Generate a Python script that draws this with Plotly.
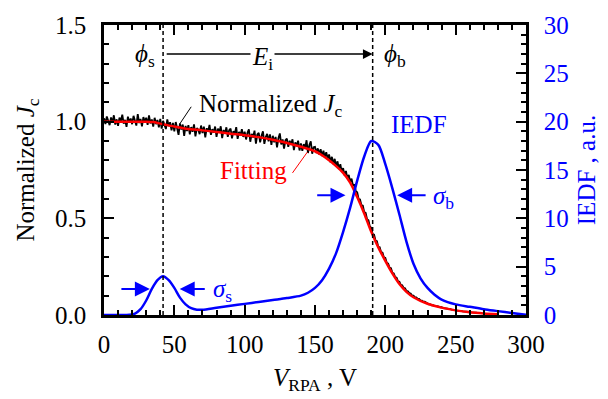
import plotly.graph_objects as go

# ---------------- data ----------------
v_jc = list(range(0, 266))
jc_norm = [
    1.018, 0.988, 1.027, 1.006, 0.982, 1.022, 0.994, 1.033, 0.985, 1.012,
    0.978, 1.021, 1.002, 1.036, 0.99, 1.009, 0.973, 1.026, 0.997, 1.016,
    0.987, 1.03, 1.005, 0.98, 1.039, 0.993, 1.014, 0.976, 1.024, 1.0,
    1.02, 0.984, 1.032, 0.991, 1.011, 0.974, 1.02, 0.987, 1.009, 0.971,
    1.014, 0.964, 1.004, 0.985, 0.962, 1.012, 0.977, 0.997, 0.955, 0.994,
    0.95, 0.998, 0.97, 0.932, 0.991, 0.959, 0.985, 0.927, 0.978, 0.951,
    0.982, 0.934, 0.972, 0.948, 0.986, 0.924, 0.967, 0.959, 0.935, 0.98,
    0.941, 0.974, 0.919, 0.966, 0.948, 0.983, 0.932, 0.961, 0.943, 0.975,
    0.921, 0.964, 0.945, 0.976, 0.915, 0.957, 0.938, 0.971, 0.922, 0.956,
    0.964, 0.914, 0.951, 0.938, 0.972, 0.911, 0.947, 0.929, 0.961, 0.921,
    0.948, 0.908, 0.942, 0.96, 0.896, 0.937, 0.918, 0.954, 0.886, 0.934,
    0.942, 0.893, 0.927, 0.95, 0.885, 0.921, 0.937, 0.898, 0.934, 0.88,
    0.927, 0.893, 0.921, 0.867, 0.914, 0.939, 0.882, 0.908, 0.861, 0.904,
    0.912, 0.87, 0.901, 0.881, 0.909, 0.853, 0.893, 0.874, 0.902, 0.851,
    0.888, 0.849, 0.884, 0.863, 0.904, 0.838, 0.879, 0.898, 0.834, 0.868,
    0.87, 0.838, 0.862, 0.83, 0.858, 0.822, 0.85, 0.815, 0.842, 0.808,
    0.83, 0.79, 0.818, 0.78, 0.808, 0.768, 0.795, 0.755, 0.78, 0.742,
    0.76, 0.722, 0.745, 0.705, 0.725, 0.688, 0.705, 0.668, 0.675, 0.64,
    0.635, 0.6, 0.598, 0.568, 0.565, 0.532, 0.528, 0.495, 0.49, 0.458,
    0.45, 0.418, 0.415, 0.385, 0.382, 0.352, 0.35, 0.325, 0.322, 0.298,
    0.295, 0.27, 0.266, 0.245, 0.242, 0.218, 0.215, 0.196, 0.193, 0.174,
    0.172, 0.156, 0.154, 0.14, 0.138, 0.125, 0.123, 0.113, 0.111, 0.101,
    0.1, 0.091, 0.091, 0.083, 0.083, 0.076, 0.075, 0.069, 0.069, 0.063,
    0.06, 0.055, 0.055, 0.05, 0.051, 0.046, 0.047, 0.043, 0.043, 0.04,
    0.04, 0.036, 0.036, 0.033, 0.033, 0.03, 0.031, 0.028, 0.028, 0.026,
    0.026, 0.023, 0.023, 0.021, 0.021, 0.019, 0.019, 0.017, 0.017, 0.016,
    0.016, 0.014, 0.014, 0.013, 0.013, 0.012,
]

v_fit = [0, 10, 20, 30, 35, 40, 45, 50, 55, 60, 70, 80, 90, 100, 110, 120, 130, 140, 150, 155,
         160, 165, 170, 175, 180, 185, 190, 195, 200, 205, 210, 215, 220, 230, 240, 250, 260, 270, 280]
jc_fit = [1.0, 1.0, 1.0, 1.0, 0.998, 0.99, 0.982, 0.975, 0.968, 0.962, 0.955, 0.947, 0.938, 0.93,
          0.92, 0.906, 0.89, 0.87, 0.847, 0.826, 0.80, 0.77, 0.735, 0.685, 0.61, 0.525, 0.43, 0.35,
          0.28, 0.215, 0.16, 0.12, 0.092, 0.058, 0.038, 0.024, 0.014, 0.008, 0.004]

v_iedf = [0, 10, 18, 22, 26, 30, 34, 38, 42, 46, 50, 54, 58, 62, 66, 70, 80, 90, 100, 110, 120, 130,
          140, 145, 150, 155, 160, 165, 170, 175, 180, 185, 190, 195, 200, 205, 210, 215, 220, 225,
          230, 235, 240, 250, 260, 270, 280, 290, 300]
iedf = [0, 0, 0.02, 0.15, 0.6, 1.5, 2.7, 3.6, 4.0, 3.6, 2.8, 1.8, 1.1, 0.7, 0.55, 0.55, 0.75, 0.95,
        1.15, 1.35, 1.55, 1.75, 2.0, 2.3, 2.8, 3.6, 4.8, 6.4, 8.6, 11.1, 13.9, 16.4, 18.0, 17.6,
        15.6, 13.1, 10.4, 7.6, 5.3, 3.8, 2.8, 2.1, 1.6, 1.1, 0.85, 0.6, 0.4, 0.2, 0.02]

phi_s = 42
phi_b = 191

FONT = "Liberation Serif"
BLUE = "#0000ff"
RED = "#ff0000"
FS = 25

fig = go.Figure()

fig.add_trace(go.Scatter(x=v_iedf, y=iedf, mode="lines", yaxis="y2",
                         line=dict(color=BLUE, width=2.5, shape="spline", smoothing=0.8),
                         showlegend=False))
fig.add_trace(go.Scatter(x=v_jc, y=jc_norm, mode="lines",
                         line=dict(color="black", width=1.8), showlegend=False))
fig.add_trace(go.Scatter(x=v_fit, y=jc_fit, mode="lines",
                         line=dict(color=RED, width=2.5, shape="spline", smoothing=0.8),
                         showlegend=False))

for xv in (phi_s, phi_b):
    fig.add_shape(type="line", xref="x", yref="paper", x0=xv, x1=xv, y0=0, y1=1,
                  line=dict(color="black", width=1.5, dash="4px,3px"))

fig.add_shape(type="line", xref="x", yref="y", x0=62, y0=1.077, x1=54, y1=0.99,
              line=dict(color="black", width=1))
fig.add_shape(type="line", xref="x", yref="y", x0=134, y0=0.735, x1=144.6, y1=0.843,
              line=dict(color=RED, width=1))

ann = []
ann.append(dict(x=phi_b, y=1.35, ax=phi_s + 1.5, ay=1.35, xref="x", yref="y", axref="x", ayref="y",
                text="", showarrow=True, arrowhead=2, arrowsize=1.3, arrowwidth=1.5, arrowcolor="black"))
ann.append(dict(x=113, y=1.325, xref="x", yref="y", text="<i>E</i><sub>i</sub>", showarrow=False,
                bgcolor="white", font=dict(family=FONT, size=FS, color="black")))
ann.append(dict(x=29, y=1.34, xref="x", yref="y", text="<i>ϕ</i><sub>s</sub>", showarrow=False,
                font=dict(family=FONT, size=FS, color="black")))
ann.append(dict(x=206.6, y=1.34, xref="x", yref="y", text="<i>ϕ</i><sub>b</sub>", showarrow=False,
                font=dict(family=FONT, size=FS, color="black")))
ann.append(dict(x=65.8, y=1.085, xref="x", yref="y", xanchor="left", text="Normalized <i>J</i><sub>c</sub>",
                showarrow=False, font=dict(family=FONT, size=FS, color="black")))
ann.append(dict(x=80.7, y=0.745, xref="x", yref="y", xanchor="left", text="Fitting",
                showarrow=False, font=dict(family=FONT, size=FS, color=RED)))
ann.append(dict(x=202.4, y=0.985, xref="x", yref="y", xanchor="left", text="IEDF",
                showarrow=False, font=dict(family=FONT, size=FS, color=BLUE)))
ann.append(dict(x=76.4, y=0.125, xref="x", yref="y", xanchor="left", text="<i>σ</i><sub>s</sub>",
                showarrow=False, font=dict(family=FONT, size=FS, color=BLUE)))
ann.append(dict(x=232.8, y=0.61, xref="x", yref="y", xanchor="left", text="<i>σ</i><sub>b</sub>",
                showarrow=False, font=dict(family=FONT, size=FS, color=BLUE)))
for (tail, head, yv) in [(11.3, 32.6, 2.7), (72.7, 53.8, 2.7), (150.5, 171.7, 12.4), (229.7, 208.4, 12.4)]:
    ann.append(dict(x=head, y=yv, ax=tail, ay=yv, xref="x", yref="y2", axref="x", ayref="y2",
                    text="", showarrow=True, arrowhead=2, arrowsize=1.5, arrowwidth=2, arrowcolor=BLUE))

axis_common = dict(showline=True, linewidth=2.5, linecolor="black", ticks="inside",
                   tickwidth=1.5, tickcolor="black", showgrid=False, zeroline=False)

fig.update_layout(
    width=608, height=399,
    margin=dict(l=104, r=80, t=16, b=82),
    plot_bgcolor="white", paper_bgcolor="white",
    font=dict(family=FONT, size=FS, color="black"),
    xaxis=dict(range=[0, 300], tickvals=[0, 50, 100, 150, 200, 250, 300], ticklen=10,
               mirror="ticks", minor=dict(dtick=10, ticklen=5, ticks="inside", tickwidth=1.5, tickcolor="black"),
               tickfont=dict(family=FONT, size=FS, color="black"), ticklabelstandoff=5,
               title=dict(text="<i>V</i><sub>RPA</sub> , V", font=dict(family=FONT, size=FS), standoff=12),
               **axis_common),
    yaxis=dict(range=[0, 1.5], tickvals=[0, 0.5, 1.0, 1.5], ticktext=["0.0", "0.5", "1.0", "1.5"],
               ticklen=10, minor=dict(dtick=0.1, ticklen=5, ticks="inside", tickwidth=1.5, tickcolor="black"),
               tickfont=dict(family=FONT, size=FS, color="black"), ticklabelstandoff=10,
               title=dict(text="Normalized <i>J</i><sub>c</sub>", font=dict(family=FONT, size=FS), standoff=14),
               **axis_common),
    yaxis2=dict(range=[0, 30], overlaying="y", side="right", tickvals=[0, 5, 10, 15, 20, 25, 30],
                ticklen=10, minor=dict(dtick=1, ticklen=5, ticks="inside", tickwidth=1.5, tickcolor="black"),
                tickfont=dict(family=FONT, size=FS, color=BLUE), ticklabelstandoff=10,
                title=dict(text="IEDF , a.u.", font=dict(family=FONT, size=FS, color=BLUE), standoff=10),
                **axis_common),
    annotations=ann,
)

fig.write_html("out.html")
